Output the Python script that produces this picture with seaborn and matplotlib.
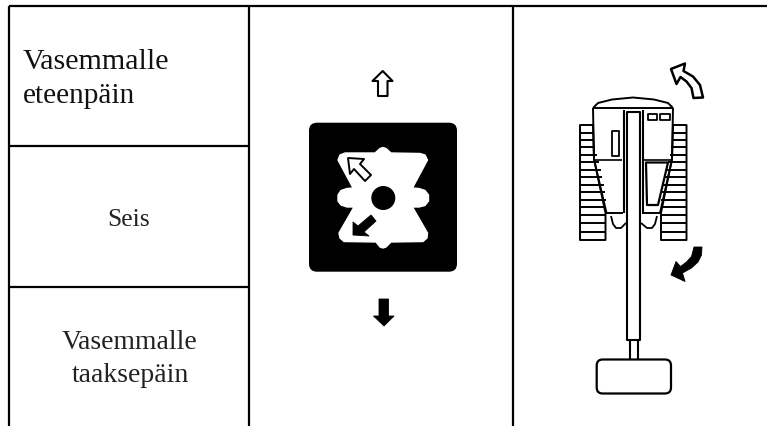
import matplotlib
matplotlib.use("Agg")
import matplotlib.pyplot as plt
import seaborn as sns
from matplotlib.patches import Circle, FancyBboxPatch, Polygon

# --- table ---
ROW_RULES = [5.7, 146, 286.5]
COL_RULES = [9, 249, 513]
TABLE_RIGHT = 767
TABLE_BOTTOM = 426

CELL_TEXTS = ["Vasemmalle", "eteenpäin", "Seis", "Vasemmalle", "taaksepäin"]
CELL_X = [23, 23, 129, 130, 130]
CELL_BASELINE = [69, 103, 226, 349, 382]
CELL_ALIGN = ["left", "left", "center", "center", "center"]
CELL_SIZE = [21.6, 21.2, 18.4, 19.9, 20.0]
CELL_COLOR = ["#111111", "#111111", "#222222", "#222222", "#222222"]

# --- icon column (x, y in pixels) ---
WHITE_SHAPE = [
    (383, 147.5), (386, 148.5), (391, 153), (420, 153.5), (425, 155), (427.5, 160),
    (412.5, 188), (419, 188.5), (425, 190.5), (428.5, 195), (428.5, 201), (425, 205.5),
    (419, 207), (412.5, 207), (427.5, 233), (427, 238), (423, 241.5), (391, 242),
    (386, 247), (383, 248), (380, 247), (376, 242), (344, 241.5), (340, 238),
    (339, 233), (354, 207), (347, 207), (341, 205), (338, 201), (338, 195),
    (341, 190.5), (347, 188.5), (353, 188), (338, 160), (340, 155), (345, 153),
    (375, 153), (380, 148.5),
]
HOLLOW_DIAG = [(348, 158), (364, 159), (360, 164), (371, 175), (365, 181), (354, 169), (350, 174)]
BLACK_DIAG = [(353, 235), (353, 222), (358, 226), (371, 215), (376, 221), (364, 232), (369, 236)]
HOLLOW_UP = [(382.7, 71), (392.5, 81), (387.5, 81), (387.5, 96), (378, 96), (378, 81), (372.5, 81)]
BLACK_DOWN = [(384, 326), (394, 316), (388.5, 316), (388.5, 299), (379, 299), (379, 316), (373.5, 316)]

# --- machine column (x, y in pixels) ---
BODY_LEFT_X = [593, 594, 606.5, 623]
BODY_LEFT_Y = [108, 159.5, 213, 213]
BODY_RIGHT_X = [673, 672, 660, 642]
BODY_RIGHT_Y = [108, 159.5, 213, 213]
ROOF_X = [593, 598, 612, 633, 654, 668, 673]
ROOF_Y = [108, 103, 99.5, 97.5, 99.5, 103, 108]
TRACK_LEFT = [(580, 125), (593, 125), (594, 159), (605.5, 213), (605.5, 240), (580, 240)]
TRACK_RIGHT = [(686.5, 125), (673, 125), (672, 159), (661, 213), (661, 240), (686.5, 240)]
STRIPES_Y = [133, 140, 147, 155, 162, 170, 177, 185, 192, 200, 207, 215, 223, 232]
STRIPES_LEFT = [593.5, 594, 595, 597, 599, 600.5, 602, 604, 605, 605.5, 605.5, 605.5, 605.5, 605.5]
STRIPES_RIGHT = [673, 672, 671, 669.5, 668, 666, 665, 663, 662, 661, 661, 661, 661, 661]
SMALL_RECT = [(611.5, 131), (619, 131), (619, 156), (611.5, 156)]
LAMP_A = [(647.5, 114), (656.5, 114), (656.5, 120), (647.5, 120)]
LAMP_B = [(659.5, 114), (669.5, 114), (669.5, 120), (659.5, 120)]
WINDOW = [(646, 162.5), (668, 162.5), (658, 205), (647, 205)]
FORK_LEFT_X = [611, 613, 616, 621, 626]
FORK_LEFT_Y = [216, 224, 228, 228, 223]
FORK_RIGHT_X = [657, 655, 652, 647, 641]
FORK_RIGHT_Y = [216, 224, 228, 228, 223]
BOOM_X = [626.7, 640]
BOOM_TOP = 112
BOOM_BOTTOM = 340
NECK_X = [629.5, 638]
NECK_Y = [340, 359]
HEAD_BOX = (596.7, 359.5, 74.3, 34)
HOLLOW_TURN = [(671, 69), (685, 63.5), (683.5, 71), (693, 76.5), (700, 85), (703, 97.5), (693.5, 98), (691.5, 88), (686.5, 81.5), (680.5, 77), (676.5, 84)]
BLACK_TURN = [(702, 247), (694, 247), (691.5, 256.5), (686.5, 262), (680.5, 266.5), (676, 261.5), (671, 275), (685, 281.5), (682.5, 273), (691.5, 268), (698, 262), (701.5, 255)]


def rule(ax, xs, ys, width=1.5, color="black", z=4):
    sns.lineplot(x=xs, y=ys, color=color, linewidth=width, estimator=None, sort=False,
                 legend=False, ax=ax, solid_capstyle="butt", zorder=z)


def shape(ax, points, face, edge="black", width=1.2, z=3):
    ax.add_patch(Polygon(points, closed=True, facecolor=face, edgecolor=edge,
                         linewidth=width, joinstyle="round", zorder=z))


def draw_table(ax):
    for y in ROW_RULES:
        rule(ax, [COL_RULES[0], TABLE_RIGHT if y == ROW_RULES[0] else COL_RULES[1]], [y, y], 1.6)
    for x in COL_RULES:
        rule(ax, [x, x], [ROW_RULES[0], TABLE_BOTTOM], 1.6)
    for txt, x, y, al, size, col in zip(CELL_TEXTS, CELL_X, CELL_BASELINE, CELL_ALIGN, CELL_SIZE, CELL_COLOR):
        ax.text(x, y, txt, ha=al, va="baseline", fontsize=size, color=col, family="Liberation Serif")


def draw_icon(ax):
    ax.add_patch(FancyBboxPatch((309, 122.7), 148, 149, boxstyle="round,pad=0,rounding_size=8",
                                facecolor="black", edgecolor="none", zorder=2))
    shape(ax, WHITE_SHAPE, "white", "white", 1.0)
    ax.add_patch(Circle((383.3, 198), 12, facecolor="black", edgecolor="none", zorder=4))
    shape(ax, HOLLOW_DIAG, "white", "black", 1.4, 4)
    shape(ax, BLACK_DIAG, "black", "black", 0.6, 4)
    shape(ax, HOLLOW_UP, "white", "black", 1.5, 4)
    shape(ax, BLACK_DOWN, "black", "black", 0.6, 4)


def draw_machine(ax):
    for track in (TRACK_LEFT, TRACK_RIGHT):
        shape(ax, track, "white", "black", 1.4)
    for y, xl, xr in zip(STRIPES_Y, STRIPES_LEFT, STRIPES_RIGHT):
        rule(ax, [580, xl], [y, y], 1.4)
        rule(ax, [xr, 686.5], [y, y], 1.4)

    rule(ax, ROOF_X, ROOF_Y, 1.4)
    rule(ax, [593, 673], [108, 108], 1.4)
    rule(ax, BODY_LEFT_X, BODY_LEFT_Y, 1.4)
    rule(ax, BODY_RIGHT_X, BODY_RIGHT_Y, 1.4)
    rule(ax, [594, 622], [159.5, 159.5], 1.2)
    rule(ax, [644, 672], [159.5, 159.5], 1.2)
    rule(ax, [623.5, 623.5], [110, 213], 1.5)
    rule(ax, [642.5, 642.5], [110, 213], 1.5)

    for box in (SMALL_RECT, LAMP_A, LAMP_B):
        shape(ax, box, "white", "black", 1.3, 4)
    shape(ax, WINDOW, "white", "black", 1.6, 4)
    rule(ax, FORK_LEFT_X, FORK_LEFT_Y, 1.3)
    rule(ax, FORK_RIGHT_X, FORK_RIGHT_Y, 1.3)

    # puomi
    left, right = BOOM_X
    shape(ax, [(left, BOOM_TOP), (right, BOOM_TOP), (right, BOOM_BOTTOM), (left, BOOM_BOTTOM)], "white", "black", 1.5, 5)
    rule(ax, [NECK_X[0], NECK_X[0]], NECK_Y, 1.5)
    rule(ax, [NECK_X[1], NECK_X[1]], NECK_Y, 1.5)
    x, y, w, h = HEAD_BOX
    ax.add_patch(FancyBboxPatch((x, y), w, h, boxstyle="round,pad=0,rounding_size=6",
                                facecolor="white", edgecolor="black", linewidth=1.6, zorder=4))

    shape(ax, HOLLOW_TURN, "white", "black", 1.8)
    shape(ax, BLACK_TURN, "black", "black", 0.6)


def main():
    sns.set_style("white")
    fig = plt.figure(figsize=(7.67, 4.26), dpi=100)
    ax = fig.add_axes([0, 0, 1, 1])
    draw_table(ax)
    draw_icon(ax)
    draw_machine(ax)
    ax.set_xlim(0, 767)
    ax.set_ylim(426, 0)
    ax.axis("off")
    fig.savefig("out.png", dpi=100, facecolor="white")
    plt.close(fig)


if __name__ == "__main__":
    main()
